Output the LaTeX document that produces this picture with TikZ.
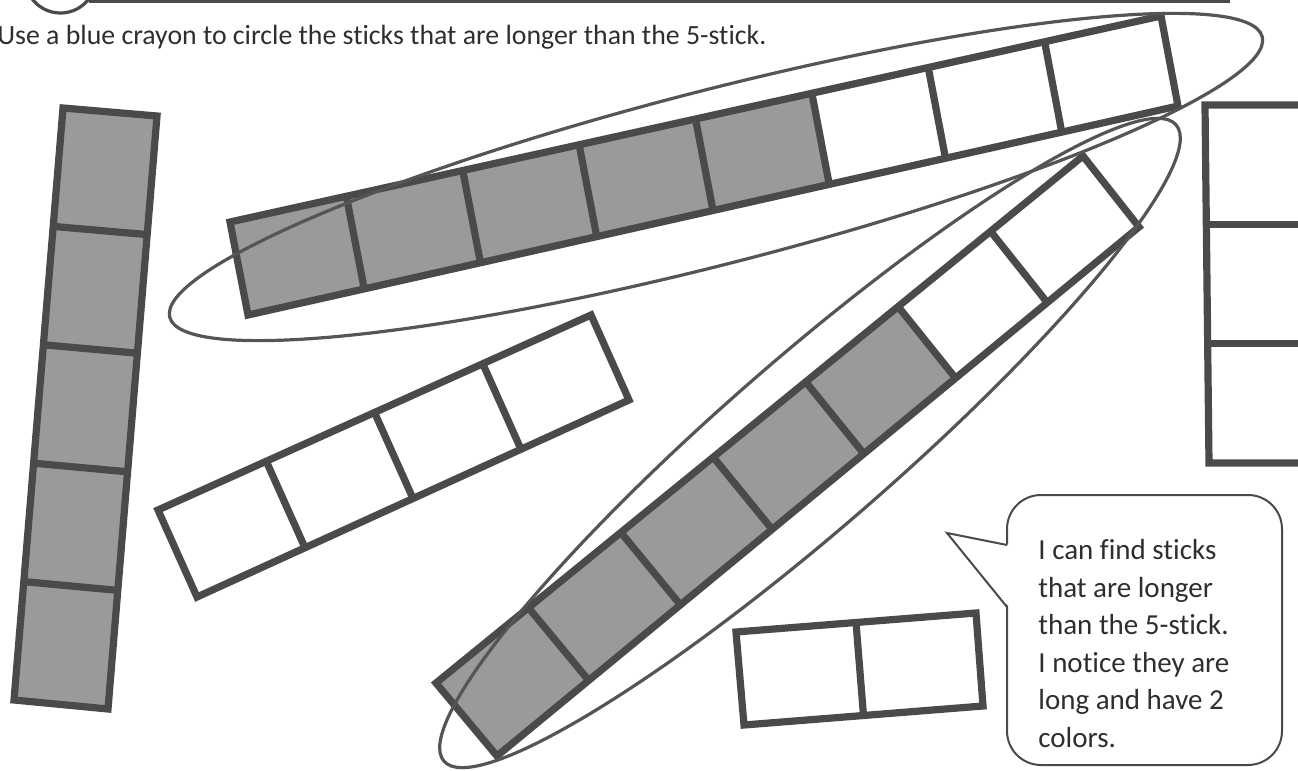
\documentclass[tikz,border=0pt]{standalone}
\usepackage{fontspec}
\setmainfont{Carlito}[Ligatures=NoCommon]
\usetikzlibrary{calc}
\definecolor{ink}{HTML}{4A4A4A}
\definecolor{cubegray}{HTML}{9A9A9A}
\definecolor{crayon}{HTML}{555555}
\definecolor{words}{HTML}{2E2E2E}

\begin{document}
\begin{tikzpicture}[x=0.5pt, y=-0.5pt,
  cube/.style={draw=ink, line width=3.6pt, line join=miter},
  shade/.style={fill=cubegray},
  loop/.style={draw=crayon, line width=1.6pt},
  bubble/.style={draw=ink, line width=1pt},
  prompt/.style={font=\fontsize{13.9}{16}\selectfont, text=words, inner sep=0pt},
  say/.style={font=\fontsize{14.5}{18.8}\selectfont, text=words, align=left, inner sep=0pt}
]
  \useasboundingbox (0,0) rectangle (1298,771);
  \clip (0,0) rectangle (1298,771);

  % Header rule and number circle
  \draw[ink, line width=1.6pt] (60.5,-22.6) circle (35.6);
  \draw[ink, line width=1.6pt] (89,1) -- (1230,1);

  % Instruction
  \node[prompt, anchor=base west] (task) at (-3,45)
    {Use a blue crayon to circle the sticks that are longer than the 5-stick.};

  % Five-stick, upright on the left
  \coordinate (A0) at (63,108);
  \coordinate (A1) at (14,700);
  \coordinate (A2) at (108,709);
  \coordinate (A3) at (157,116);
  \fill[shade] (A0) -- (A1) -- (A2) -- (A3) -- cycle;
  \foreach \i in {1,...,4}
    \draw[cube] ($(A0)!\i/5!(A1)$) -- ($(A3)!\i/5!(A2)$);
  \draw[cube] (A0) -- (A1) -- (A2) -- (A3) -- cycle;

  % Eight-stick at the top (5 gray, 3 white)
  \coordinate (B0) at (230,222);
  \coordinate (B1) at (1161,16);
  \coordinate (B2) at (1178,106);
  \coordinate (B3) at (248,315);
  \fill[shade] (B0) -- ($(B0)!5/8!(B1)$) -- ($(B3)!5/8!(B2)$) -- (B3) -- cycle;
  \foreach \i in {1,...,7}
    \draw[cube] ($(B0)!\i/8!(B1)$) -- ($(B3)!\i/8!(B2)$);
  \draw[cube] (B0) -- (B1) -- (B2) -- (B3) -- cycle;

  % Four-stick, white
  \coordinate (C0) at (158,510);
  \coordinate (C1) at (591,315);
  \coordinate (C2) at (629,400);
  \coordinate (C3) at (197,597);
  \foreach \i in {1,...,3}
    \draw[cube] ($(C0)!\i/4!(C1)$) -- ($(C3)!\i/4!(C2)$);
  \draw[cube] (C0) -- (C1) -- (C2) -- (C3) -- cycle;

  % Seven-stick on the diagonal (5 gray, 2 white)
  \coordinate (D0) at (436,683);
  \coordinate (D1) at (1083,156);
  \coordinate (D2) at (1139,227);
  \coordinate (D3) at (497,756);
  \fill[shade] (D0) -- ($(D0)!5/7!(D1)$) -- ($(D3)!5/7!(D2)$) -- (D3) -- cycle;
  \foreach \i in {1,...,6}
    \draw[cube] ($(D0)!\i/7!(D1)$) -- ($(D3)!\i/7!(D2)$);
  \draw[cube] (D0) -- (D1) -- (D2) -- (D3) -- cycle;

  % Three-stick at the right edge
  \coordinate (E0) at (1205,105);
  \coordinate (E1) at (1209,463);
  \coordinate (E2) at (1312,463);
  \coordinate (E3) at (1308,105);
  \foreach \i in {1,2}
    \draw[cube] ($(E0)!\i/3!(E1)$) -- ($(E3)!\i/3!(E2)$);
  \draw[cube] (E0) -- (E1) -- (E2) -- (E3) -- cycle;

  % Two-stick
  \coordinate (F0) at (736,632);
  \coordinate (F1) at (976,613);
  \coordinate (F2) at (983,706);
  \coordinate (F3) at (744,725);
  \draw[cube] ($(F0)!1/2!(F1)$) -- ($(F3)!1/2!(F2)$);
  \draw[cube] (F0) -- (F1) -- (F2) -- (F3) -- cycle;

  % Crayon loops round the long sticks
  \draw[loop, rotate around={14.4:(716,177)}] (716,177) ellipse [x radius=564, y radius=87];
  \draw[loop, rotate around={41:(810,443)}] (810,443) ellipse [x radius=485, y radius=85];

  % Speech bubble
  \draw[bubble, rounded corners=17pt] (1007,495) rectangle (1282,765);
  \fill[white] (1009,545) -- (947,533) -- (1009,607) -- cycle;
  \draw[bubble, line join=miter] (1007,545) -- (947,533) -- (1007,607);
  \node[say, anchor=north west] (note) at (1038,539)
    {I can find sticks\\that are longer\\than the 5-stick.\\I notice they are\\long and have 2\\colors.};
\end{tikzpicture}
\end{document}
